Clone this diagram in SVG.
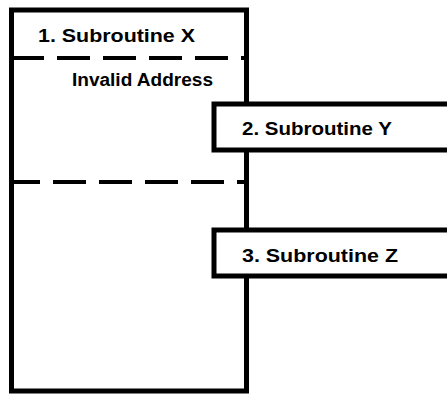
<svg xmlns="http://www.w3.org/2000/svg" width="447" height="394" viewBox="0 0 447 394">
<style>
.box{fill:#fff;stroke:#000;stroke-width:5}
.dash{fill:none;stroke:#000;stroke-width:4;stroke-dasharray:33 13}
.t{font-family:"Liberation Sans",Arial,sans-serif;font-weight:bold;font-size:18px;fill:#000}
</style>
<rect width="447" height="394" fill="#fff"/>
<g id="main">
<rect class="box" x="11.5" y="10" width="235" height="381"/>
<text class="t" x="38" y="42" textLength="157" lengthAdjust="spacingAndGlyphs">1.  Subroutine X</text>
<text class="t" x="72" y="86" textLength="141" lengthAdjust="spacingAndGlyphs" font-size="17">Invalid Address</text>
</g>
<g id="connectors">
<line class="dash" x1="11" y1="58" x2="247" y2="58"/>
<line class="dash" x1="11" y1="182" x2="247" y2="182" style="stroke-dashoffset:4"/>
</g>
<g id="subY">
<path class="box" d="M450 104 H214 V150 H450"/>
<text class="t" x="242" y="135" textLength="150" lengthAdjust="spacingAndGlyphs">2.  Subroutine Y</text>
</g>
<g id="subZ">
<path class="box" d="M450 230 H214 V276 H450"/>
<text class="t" x="242" y="262" textLength="156" lengthAdjust="spacingAndGlyphs">3.  Subroutine Z</text>
</g>
</svg>
